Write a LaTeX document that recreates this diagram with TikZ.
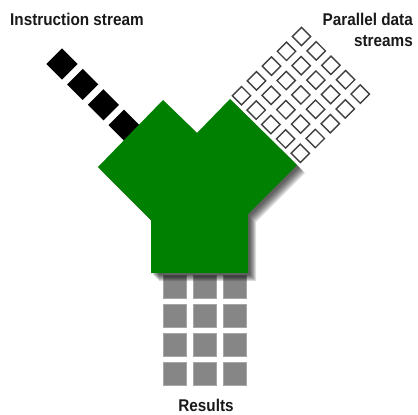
\documentclass[tikz,border=0pt]{standalone}
\usepackage{fontspec}
\newfontfamily\labelfont[FakeStretch=0.9]{Liberation Sans}
\usetikzlibrary{positioning}

\begin{document}
\begin{tikzpicture}[x=1pt, y=-1pt,
    square_black/.style ={rectangle, draw=none, fill=black, rotate=45,
      minimum size=22pt, inner sep=0pt},
    square_white/.style ={rectangle, draw=black!75, line width=1.4pt, fill=white, rotate=45,
      minimum size=13pt, inner sep=0pt},
    square_gray/.style ={rectangle, draw=gray!70, line width=0.6pt, fill=gray!95,
      minimum size=23pt, inner sep=0pt},
    label_text/.style ={inner sep=0pt, text=black!90,
      font=\labelfont\bfseries\fontsize{17}{20}\selectfont}]
    \useasboundingbox (0,0) rectangle (418,415);
    % instruction stream - one row of squares
    \foreach \k in {0,...,3}
      \node [square_black] (instr\k) at (62+20.7*\k, 64+20.4*\k) {};
    % parallel data streams - 5 x 5 grid
    \foreach \i in {0,...,4}
      \foreach \j in {0,...,4}
        \node [square_white] (data\i\j) at (301.5+14.7*\i-15*\j, 36.5+14.4*\i+14.8*\j) {};
    % results - 3 columns x 4 rows
    \foreach \c in {0,1,2}
      \foreach \r in {0,...,3}
        \node [square_gray] (res\c\r) at (175+30*\c, 287+29*\r) {};
    % processing unit with its soft shadow
    \def\unitpath{(163,100) -- (197,133) -- (230,99) -- (297,165) -- (248,214)
      -- (248,273) -- (151,273) -- (151,220) -- (98,167) -- cycle}
    \foreach \s in {8,7,...,2}
      \fill [black, opacity=0.13, shift={(\s,\s)}] \unitpath;
    \fill [green!50!black] \unitpath;
    % labels
    \node [label_text, anchor=base west] (instrlabel) at (10,25) {Instruction stream};
    \node [label_text, anchor=base east] (datalabel1) at (413,25) {Parallel data};
    \node [label_text, anchor=base east] (datalabel2) at (413,46) {streams};
    \node [label_text, anchor=base] (reslabel) at (206,411) {Results};
  \end{tikzpicture}
\end{document}
